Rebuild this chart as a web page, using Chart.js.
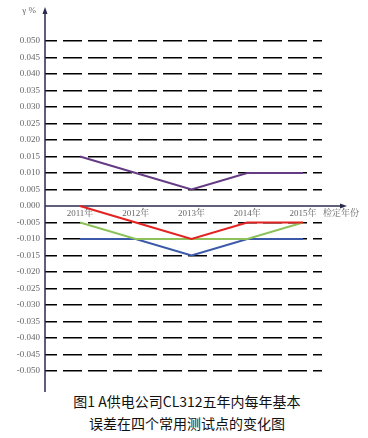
<!DOCTYPE html>
<html>
<head>
<meta charset="utf-8">
<script src="https://cdn.jsdelivr.net/npm/chart.js@4.4.1/dist/chart.umd.min.js"></script>
<style>
    html, body { margin: 0; padding: 0; background: #fff; }
    #wrap { position: relative; width: 368px; height: 392px; }
    .caption {
        width: 368px;
        margin-top: -2px;
        padding-left: 6px;
        box-sizing: border-box;
        text-align: center;
        font-family: "Noto Sans CJK SC", "Noto Sans", sans-serif;
        font-size: 14px;
        line-height: 22px;
        color: #111;
    }
</style>
</head>
<body>
<div id="wrap"><canvas id="errChart"></canvas></div>
<div class="caption">图1 A供电公司CL312五年内每年基本<br>误差在四个常用测试点的变化图</div>

<script>
// Years on the x axis
const years = [2011, 2012, 2013, 2014, 2015];

// Basic error (γ %) per test point
const seriesPurple = [0.015, 0.010, 0.005, 0.010, 0.010];
const seriesRed    = [0.000, -0.005, -0.010, -0.005, -0.005];
const seriesGreen  = [-0.005, -0.010, -0.010, -0.010, -0.005];
const seriesBlue   = [-0.010, -0.010, -0.015, -0.010, -0.010];

// Y tick labels
const yTicks = [0.050, 0.045, 0.040, 0.035, 0.030, 0.025, 0.020, 0.015, 0.010, 0.005, 0.000,
    -0.005, -0.010, -0.015, -0.020, -0.025, -0.030, -0.035, -0.040, -0.045, -0.050];

const axisColor = "#2b2b4f";
const labelFont = { family: "'Liberation Serif', 'Noto Serif CJK SC', 'Noto Sans CJK SC', serif", size: 9 };

function toPoints(values) {
    return values.map((v, i) => ({ x: years[i], y: v }));
}

// Draws both axes with arrow heads and the axis names
const axesPlugin = {
    id: "axesArrows",
    beforeDatasetsDraw(chart) {
        const ctx = chart.ctx;
        const area = chart.chartArea;
        const y0 = chart.scales.y.getPixelForValue(0);
        const xEnd = 347;

        ctx.save();
        ctx.strokeStyle = axisColor;
        ctx.fillStyle = axisColor;
        ctx.lineWidth = 1.5;

        // y axis
        ctx.beginPath();
        ctx.moveTo(area.left, area.bottom);
        ctx.lineTo(area.left, area.top);
        ctx.stroke();
        ctx.beginPath();
        ctx.moveTo(area.left, area.top - 3);
        ctx.lineTo(area.left - 2.5, area.top + 4);
        ctx.lineTo(area.left + 2.5, area.top + 4);
        ctx.closePath();
        ctx.fill();

        // x axis
        ctx.beginPath();
        ctx.moveTo(area.left, y0);
        ctx.lineTo(xEnd - 4, y0);
        ctx.stroke();
        ctx.beginPath();
        ctx.moveTo(xEnd, y0);
        ctx.lineTo(xEnd - 7, y0 - 2.5);
        ctx.lineTo(xEnd - 7, y0 + 2.5);
        ctx.closePath();
        ctx.fill();

        // axis names
        ctx.fillStyle = "#666";
        ctx.font = "9px " + labelFont.family;
        ctx.textBaseline = "middle";
        ctx.textAlign = "left";
        ctx.fillText("检定年份", 323, y0 + 7.5);
        ctx.textAlign = "right";
        ctx.fillText("γ %", 36, 11);
        ctx.restore();
    }
};

function makeSet(values, color) {
    return {
        data: toPoints(values),
        borderColor: color,
        borderWidth: 2,
        pointRadius: 0,
        tension: 0,
        fill: false
    };
}

new Chart(document.getElementById("errChart"), {
    type: "line",
    data: {
        datasets: [
            makeSet(seriesPurple, "#653c84"),
            makeSet(seriesRed, "#e32222"),
            makeSet(seriesGreen, "#8dc25a"),
            makeSet(seriesBlue, "#3c58a8")
        ]
    },
    options: {
        responsive: true,
        maintainAspectRatio: false,
        animation: false,
        layout: { padding: { top: 10, bottom: 0, right: 46, left: 0 } },
        plugins: {
            legend: { display: false },
            tooltip: { enabled: false }
        },
        scales: {
            x: {
                type: "linear",
                position: { y: 0 },
                min: 2010.372,
                max: 2015.341,
                afterBuildTicks(scale) {
                    scale.ticks = years.map(v => ({ value: v }));
                },
                afterFit(scale) {
                    scale.height = 0;
                },
                ticks: {
                    color: "#666",
                    font: labelFont,
                    padding: 2,
                    maxRotation: 0,
                    autoSkip: false,
                    callback: v => v + "年"
                },
                grid: { display: false, drawTicks: false },
                border: { display: false }
            },
            y: {
                type: "linear",
                min: -0.0564,
                max: 0.0594,
                afterBuildTicks(scale) {
                    scale.ticks = yTicks.map(v => ({ value: v }));
                },
                afterFit(scale) {
                    // fixed width, and no extra room for the end labels
                    scale.width = 45;
                    scale.paddingTop = 0;
                    scale.paddingBottom = 0;
                },
                ticks: {
                    color: "#666",
                    font: labelFont,
                    padding: 5,
                    autoSkip: false,
                    callback: v => v.toFixed(3)
                },
                grid: {
                    drawTicks: false,
                    lineWidth: 1.5,
                    color: ctx => (ctx.tick && Math.abs(ctx.tick.value) < 1e-9) ? "rgba(0,0,0,0)" : "#000"
                },
                border: {
                    display: false,
                    dash: [19, 6],
                    dashOffset: 7
                }
            }
        }
    },
    plugins: [axesPlugin]
});
</script>
</body>
</html>
